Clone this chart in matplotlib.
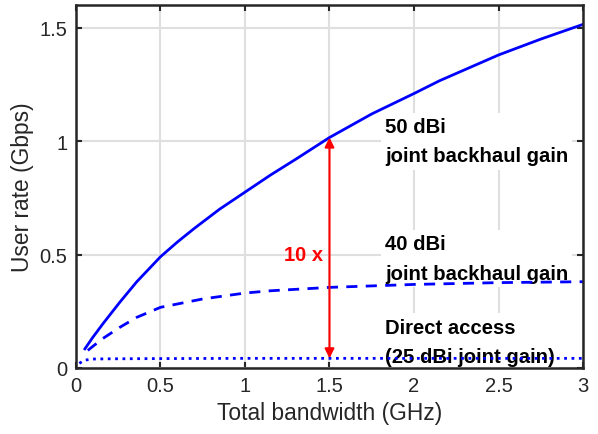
import numpy as np
import matplotlib
matplotlib.use('Agg')
import matplotlib.pyplot as plt

# 数据
bw_50 = [0.053, 0.1, 0.16, 0.26, 0.36, 0.5, 0.6, 0.7, 0.85, 1.0, 1.15, 1.3, 1.5, 1.75, 2.0, 2.15, 2.5, 2.75, 3.0]
rate_50 = [0.084, 0.135, 0.195, 0.29, 0.38, 0.49, 0.555, 0.615, 0.70, 0.775, 0.85, 0.92, 1.016, 1.12, 1.21, 1.266, 1.38, 1.45, 1.515]

bw_40 = [0.07, 0.1, 0.16, 0.26, 0.36, 0.5, 0.75, 1.0, 1.15, 1.5, 2.0, 2.5, 3.0]
rate_40 = [0.077, 0.095, 0.13, 0.179, 0.223, 0.267, 0.304, 0.33, 0.34, 0.355, 0.368, 0.376, 0.38]

bw_da = [0.02, 0.05, 0.1, 0.2, 0.5, 1.0, 2.0, 3.0]
rate_da = [0.02, 0.034, 0.039, 0.04, 0.041, 0.042, 0.042, 0.042]

plt.rcParams['font.family'] = ['Liberation Sans', 'DejaVu Sans']

fig = plt.figure(figsize=(5.98, 4.35), dpi=100)
ax = fig.add_axes([0.127, 0.152, 0.848, 0.834])

ax.plot(bw_50, rate_50, '-', color='#0000ff', lw=2)
ax.plot(bw_40, rate_40, '--', color='#0000ff', lw=2, dashes=(4, 3))
ax.plot(bw_da, rate_da, ':', color='#0000ff', lw=2)

# 10x 箭头
ax.annotate('', xy=(1.5, 1.016), xytext=(1.5, 0.042),
            arrowprops=dict(arrowstyle='<|-|>', color='red', lw=1.5,
                            mutation_scale=14, shrinkA=0, shrinkB=0))
ax.text(1.46, 0.5, '10 x', color='red', fontweight='bold', fontsize=14.5,
        ha='right', va='center')

lab_kw = dict(fontweight='bold', fontsize=14.6, ha='left', va='center', linespacing=1.7,
              bbox=dict(facecolor='white', edgecolor='none', pad=3))
ax.text(1.828, 1.0, '50 dBi\njoint backhaul gain', zorder=5, **lab_kw)
ax.text(1.828, 0.482, '40 dBi\njoint backhaul gain', zorder=1.8, **lab_kw)
ax.text(1.828, 0.115, 'Direct access\n(25 dBi joint gain)', zorder=1.8, **lab_kw)

ax.set_xlim(0, 3)
ax.set_ylim(0, 1.6)
ax.set_xticks([0, 0.5, 1, 1.5, 2, 2.5, 3])
ax.set_xticklabels(['0', '0.5', '1', '1.5', '2', '2.5', '3'])
ax.set_yticks([0, 0.5, 1, 1.5])
ax.set_yticklabels(['0', '0.5', '1', '1.5'])
ax.grid(True, color='#dfdfdf', lw=1.5)
ax.set_axisbelow(True)
ax.tick_params(direction='in', top=True, right=True, length=4, width=1.5,
               color='#262626', labelcolor='#262626', labelsize=14.5, pad=6)
for s in ax.spines.values():
    s.set_color('#262626')
    s.set_linewidth(1.8)
ax.set_xlabel('Total bandwidth (GHz)', fontsize=16.4, color='#262626')
ax.set_ylabel('User rate (Gbps)', fontsize=16.4, color='#262626')

plt.savefig('out.png', dpi=100)
